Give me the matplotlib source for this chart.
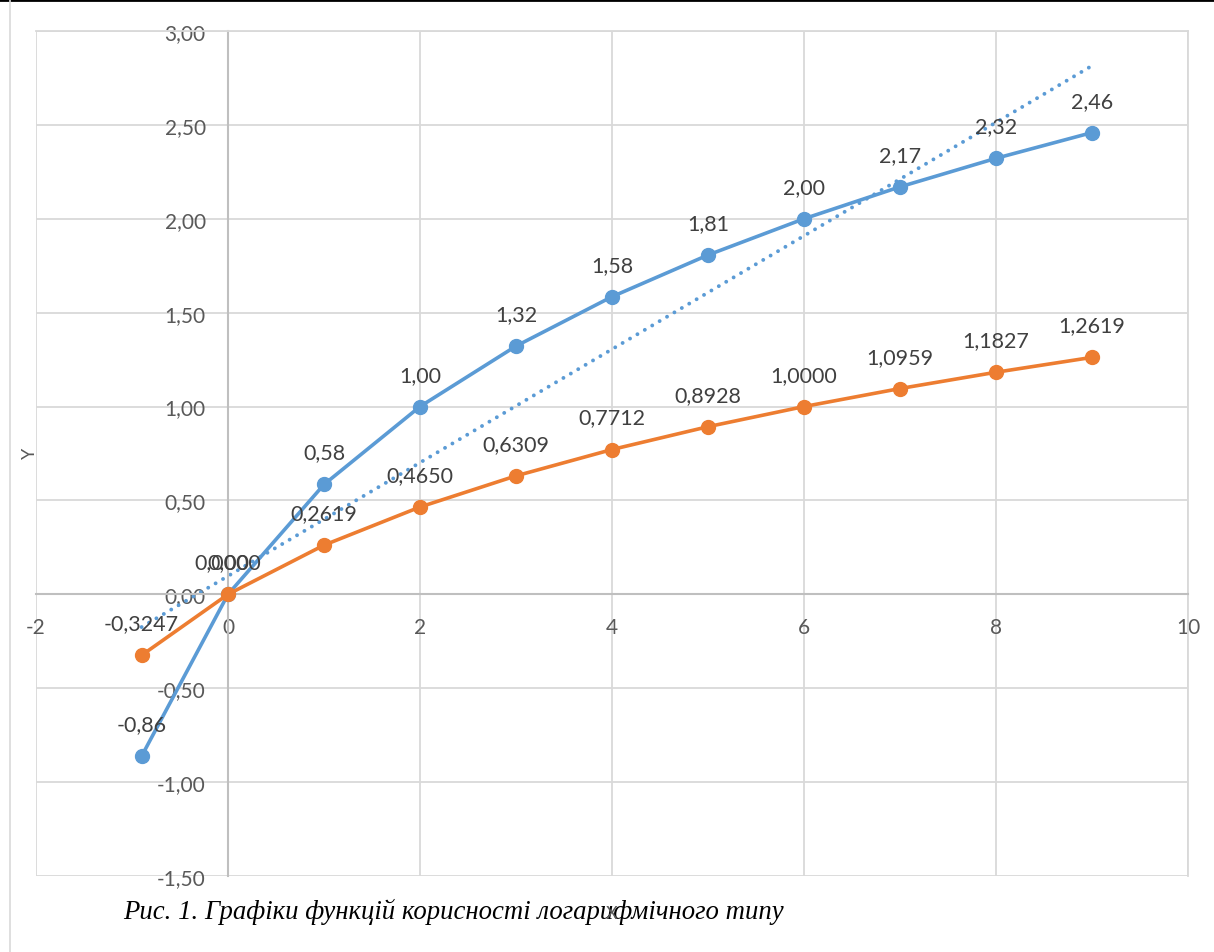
import numpy as np
import matplotlib

matplotlib.use("Agg")
import matplotlib.pyplot as plt
from matplotlib.lines import Line2D

# data
x_vals = [-0.9, 0, 1, 2, 3, 4, 5, 6, 7, 8, 9]
blue_vals = [-0.862, 0.0, 0.585, 1.0, 1.322, 1.585, 1.807, 2.0, 2.170, 2.322, 2.459]
orange_vals = [-0.3247, 0.0, 0.2619, 0.4650, 0.6309, 0.7712, 0.8928, 1.0, 1.0959, 1.1827, 1.2619]
x_ticks = [-2, 0, 2, 4, 6, 8, 10]
y_ticks = [-1.5, -1.0, -0.5, 0.0, 0.5, 1.0, 1.5, 2.0, 2.5, 3.0]
caption = "Рис. 1. Графіки функцій корисності логарифмічного типу"

BLUE = "#5B9BD5"
ORANGE = "#ED7D31"
GRID = "#D9D9D9"
AXIS = "#BFBFBF"
TICK_TXT = "#595959"
LABEL_TXT = "#404040"

plt.rcParams["font.family"] = ["Lato", "DejaVu Sans"]


def fmt(v, digits):
    return f"{v:.{digits}f}".replace(".", ",")


fig = plt.figure(figsize=(12.14, 9.53), dpi=100)
ax = fig.add_axes([36 / 1214, 1 - 877 / 953, (1188 - 36) / 1214, (877 - 32) / 953])

ax.set_xlim(-2, 10)
ax.set_ylim(-1.5, 3.0)
ax.set_xticks(x_ticks)
ax.set_yticks(y_ticks)
ax.set_xticklabels([str(t) for t in x_ticks])
ax.set_yticklabels([fmt(t, 2) for t in y_ticks])
ax.grid(True, color=GRID, linewidth=1.3, zorder=0)
ax.set_axisbelow(True)

for side in ["top", "right"]:
    ax.spines[side].set_color(GRID)
    ax.spines[side].set_linewidth(1.3)
ax.spines["left"].set_position(("data", 0))
ax.spines["bottom"].set_position(("data", 0))
ax.spines["left"].set_color(AXIS)
ax.spines["bottom"].set_color(AXIS)
ax.spines["left"].set_linewidth(1.5)
ax.spines["bottom"].set_linewidth(1.5)
ax.tick_params(axis="both", length=0, labelsize=15, labelcolor=TICK_TXT, pad=16)

# linear trendline of the blue series
coef = np.polyfit(x_vals, blue_vals, 1)
trend_x = np.array([x_vals[0], x_vals[-1]])
ax.plot(trend_x, np.polyval(coef, trend_x), linestyle=(0, (0.01, 2.2)),
        color=BLUE, linewidth=2.8, dash_capstyle="round", zorder=2)

ax.plot(x_vals, blue_vals, color=BLUE, linewidth=2.6, marker="o",
        markersize=10, zorder=3)
ax.plot(x_vals, orange_vals, color=ORANGE, linewidth=2.6, marker="o",
        markersize=10, zorder=4)

for x, y in zip(x_vals, blue_vals):
    ax.annotate(fmt(y, 2), (x, y), xytext=(0, 23), textcoords="offset points",
                ha="center", va="center", fontsize=15.5, color=LABEL_TXT, zorder=5)
for x, y in zip(x_vals, orange_vals):
    ax.annotate(fmt(y, 4), (x, y), xytext=(0, 23), textcoords="offset points",
                ha="center", va="center", fontsize=15.5, color=LABEL_TXT, zorder=5)

# caption below the chart
fig.text(123 / 1214, 1 - 912 / 953, caption, ha="left", va="center",
         fontsize=19.3, style="italic", family="Liberation Serif", color="black")

# axis titles (drawn after caption so X stays visible over it)
fig.text(612 / 1214, 1 - 914 / 953, "X", ha="center", va="center",
         fontsize=13, color=TICK_TXT)
fig.text(30 / 1214, 1 - 453 / 953, "Y", ha="center", va="center",
         fontsize=13, color=TICK_TXT, rotation=90)

# page frame lines
fig.add_artist(Line2D([0, 1], [1 - 1 / 953, 1 - 1 / 953], color="black", linewidth=2))
fig.add_artist(Line2D([10 / 1214, 10 / 1214], [0, 1], color=GRID, linewidth=1.2))

fig.savefig("out.png", dpi=100)
